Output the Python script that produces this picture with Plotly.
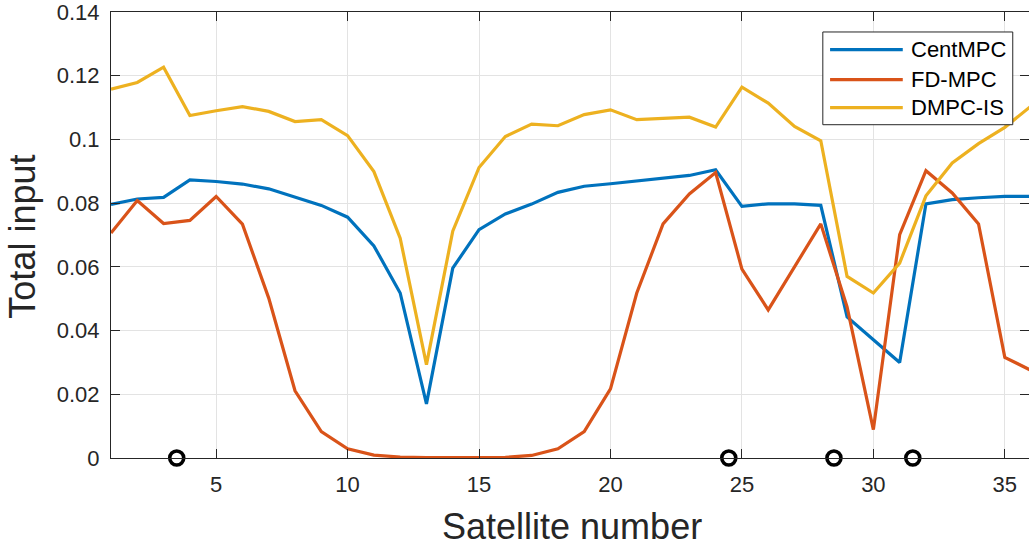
import plotly.graph_objects as go

sat = list(range(1, 37))
cent_mpc = [0.0796, 0.0813, 0.0818, 0.0873, 0.0868, 0.0860, 0.0845, 0.0819, 0.0793, 0.0756,
            0.0666, 0.0518, 0.0170, 0.0596, 0.0717, 0.0766, 0.0797, 0.0834, 0.0853, 0.0861,
            0.0870, 0.0879, 0.0887, 0.0905, 0.0790, 0.0798, 0.0798, 0.0793, 0.0443, 0.0371,
            0.0300, 0.0798, 0.0811, 0.0817, 0.0821, 0.0821]
fd_mpc = [0.0706, 0.0808, 0.0736, 0.0746, 0.0821, 0.0734, 0.0502, 0.0211, 0.0083, 0.0029,
          0.0009, 0.0003, 0.0001, 0.0000, 0.0001, 0.0002, 0.0008, 0.0029, 0.0083, 0.0217,
          0.0518, 0.0735, 0.0829, 0.0896, 0.0593, 0.0465, 0.0600, 0.0735, 0.0474, 0.0089,
          0.0701, 0.0902, 0.0832, 0.0735, 0.0316, 0.0275]
dmpc_is = [0.1158, 0.1179, 0.1227, 0.1075, 0.1090, 0.1103, 0.1088, 0.1056, 0.1062, 0.1012,
           0.0899, 0.0690, 0.0293, 0.0712, 0.0912, 0.1009, 0.1048, 0.1043, 0.1078, 0.1093,
           0.1062, 0.1066, 0.1070, 0.1039, 0.1164, 0.1114, 0.1041, 0.0996, 0.0570, 0.0518,
           0.0612, 0.0823, 0.0926, 0.0987, 0.1038, 0.1105]
marker_x = [3.5, 24.5, 28.5, 31.5]
marker_y = [0, 0, 0, 0]

names = ["CentMPC", "FD-MPC", "DMPC-IS"]
colors = ["#0072BD", "#D95319", "#EDB120"]
series = [cent_mpc, fd_mpc, dmpc_is]

FONT = "Liberation Sans, Arial, sans-serif"
TXT = "#262626"

fig = go.Figure()
for nm, col, ys in zip(names, colors, series):
    fig.add_trace(go.Scatter(x=sat, y=ys, mode="lines", name=nm,
                             line=dict(color=col, width=3.2), showlegend=False))
fig.add_trace(go.Scatter(x=marker_x, y=marker_y, mode="markers", showlegend=False,
                         cliponaxis=False,
                         marker=dict(symbol="circle-open", size=14, color="black",
                                     line=dict(width=3.6, color="black"))))

# manual legend (paper coordinates)
bx0, bx1, by0, by1 = 0.7754, 0.9823, 0.7473, 0.9552
fig.add_shape(type="rect", xref="paper", yref="paper", x0=bx0, x1=bx1, y0=by0, y1=by1,
              line=dict(color=TXT, width=1), fillcolor="white", layer="above")
rows = [0.9157, 0.8484, 0.7857]
for nm, col, ry in zip(names, colors, rows):
    fig.add_shape(type="line", xref="paper", yref="paper", x0=0.7833, x1=0.8625,
                  y0=ry, y1=ry, line=dict(color=col, width=3.2), layer="above")
    fig.add_annotation(xref="paper", yref="paper", x=0.8697, y=ry, text=nm,
                       showarrow=False, xanchor="left", yanchor="middle",
                       font=dict(family=FONT, size=22, color="black"))

# axis titles
fig.add_annotation(xref="paper", yref="paper", x=0.5024, y=-0.1525, text="Satellite number",
                   showarrow=False, xanchor="center", yanchor="middle",
                   font=dict(family=FONT, size=36, color=TXT))
fig.add_annotation(xref="paper", yref="paper", x=-0.0959, y=0.4962, text="Total input",
                   showarrow=False, xanchor="center", yanchor="middle", textangle=-90,
                   font=dict(family=FONT, size=36, color=TXT))

axis_common = dict(showline=True, linecolor=TXT, linewidth=1, mirror="ticks",
                   ticks="inside", ticklen=9, tickcolor=TXT, showgrid=True,
                   gridcolor="#e3e3e3", gridwidth=1, zeroline=False,
                   ticklabeloverflow="allow",
                   tickfont=dict(family=FONT, size=22, color=TXT))

fig.update_xaxes(range=[1, 35.92], tickvals=[5, 10, 15, 20, 25, 30, 35],
                 ticklabelstandoff=7, **axis_common)
fig.update_yaxes(range=[0, 0.14001], tickvals=[0, 0.02, 0.04, 0.06, 0.08, 0.1, 0.12, 0.14],
                 ticktext=["0", "0.02", "0.04", "0.06", "0.08", "0.1", "0.12", "0.14"],
                 ticklabelstandoff=6, **axis_common)

fig.update_layout(width=1029, height=544,
                  margin=dict(l=110.6, r=0, t=12.3, b=85.7, autoexpand=False),
                  plot_bgcolor="white", paper_bgcolor="white",
                  font=dict(family=FONT, color=TXT))

fig.write_html("out.html", config={"displayModeBar": False},
               post_script="document.body.style.margin='0';")
